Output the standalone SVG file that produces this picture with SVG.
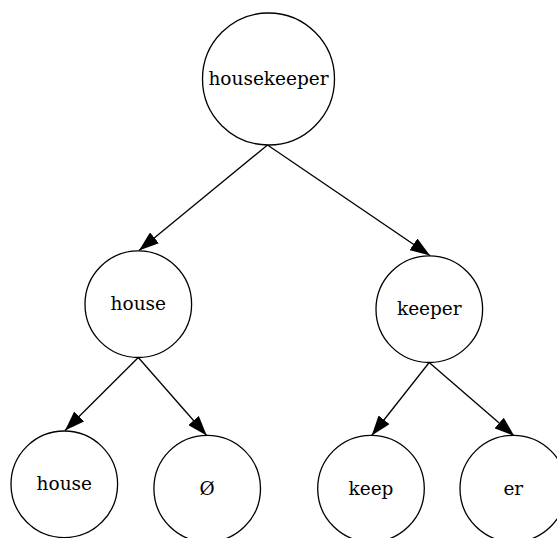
<svg xmlns="http://www.w3.org/2000/svg" width="557" height="538" viewBox="0 0 557 538">
  <style>
    .node circle { fill: #ffffff; stroke: #000000; stroke-width: 1.3; }
    .node text { font-family: "DejaVu Serif", "Liberation Serif", serif; font-size: 18.5px; text-anchor: middle; fill: #000000; }
    .edges line { stroke: #000000; stroke-width: 1.3; marker-end: url(#arrow); }
  </style>
  <defs>
    <marker id="arrow" viewBox="0 0 20 14" refX="20" refY="7" markerWidth="20" markerHeight="14" markerUnits="userSpaceOnUse" orient="auto">
      <path d="M0,0 L20,7 L0,14 Z" fill="#000000"/>
    </marker>
  </defs>
  <rect width="557" height="538" fill="#ffffff"/>

  <!-- connectors -->
  <g class="edges">
    <line x1="267.5" y1="145" x2="139" y2="250.5"/>
    <line x1="267.5" y1="145" x2="430" y2="255.5"/>
    <line x1="138.3" y1="357.5" x2="65" y2="430.5"/>
    <line x1="138.3" y1="357.5" x2="206.7" y2="435.5"/>
    <line x1="429.2" y1="362.5" x2="371.7" y2="435.5"/>
    <line x1="429.2" y1="362.5" x2="514.3" y2="436"/>
  </g>

  <!-- nodes -->
  <g id="housekeeper" class="node">
    <circle cx="268.5" cy="79" r="66"/>
    <text x="268.5" y="84.5">housekeeper</text>
  </g>
  <g id="house" class="node">
    <circle cx="138.3" cy="304.2" r="53.3"/>
    <text x="138.3" y="310">house</text>
  </g>
  <g id="keeper" class="node">
    <circle cx="429.3" cy="309.2" r="53.3"/>
    <text x="429.3" y="315">keeper</text>
  </g>
  <g id="house_leaf" class="node">
    <circle cx="64.3" cy="484.3" r="53.3"/>
    <text x="64.3" y="490">house</text>
  </g>
  <g id="empty" class="node">
    <circle cx="207.2" cy="488.6" r="53.3"/>
    <text x="207.2" y="495">Ø</text>
  </g>
  <g id="keep" class="node">
    <circle cx="371" cy="488.6" r="53.3"/>
    <text x="371" y="494.5">keep</text>
  </g>
  <g id="er" class="node">
    <circle cx="513.3" cy="488.6" r="53.3"/>
    <text x="513.3" y="495">er</text>
  </g>
</svg>
